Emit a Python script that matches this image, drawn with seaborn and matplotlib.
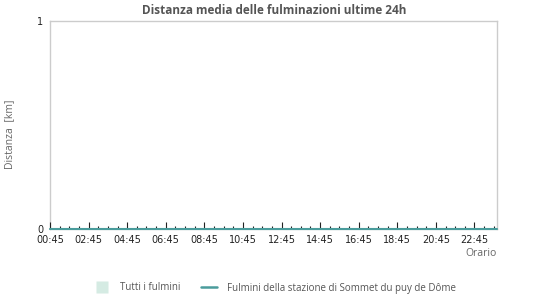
import matplotlib
matplotlib.use("Agg")
import matplotlib.pyplot as plt
import matplotlib.ticker as mticker
from matplotlib.lines import Line2D
import seaborn as sns
import pandas as pd

# ---- data ----
minutes = [45, 165, 285, 405, 525, 645, 765, 885, 1005, 1125, 1245, 1365, 1435]
tutti_km = [0, 0, 0, 0, 0, 0, 0, 0, 0, 0, 0, 0, 0]
stazione_km = [0, 0, 0, 0, 0, 0, 0, 0, 0, 0, 0, 0, 0]
tick_labels = ["00:45", "02:45", "04:45", "06:45", "08:45", "10:45",
               "12:45", "14:45", "16:45", "18:45", "20:45", "22:45"]
yticks = [0, 1]

title = "Distanza media delle fulminazioni ultime 24h"
ylabel = "Distanza  [km]"
xlabel = "Orario"
legend_labels = ["Tutti i fulmini", "Fulmini della stazione di Sommet du puy de Dôme"]

fill_color = "#d5ebe3"
line_color = "#4a9c9c"
grey = "#666666"

sns.set_theme(style="white")
plt.rcParams["font.family"] = ["DejaVu Sans"]

df = pd.DataFrame({"t": minutes, "tutti": tutti_km, "stazione": stazione_km})

fig = plt.figure(figsize=(5.5, 3.0), dpi=100)
ax = fig.add_axes([50/550, 1-229/300, (497-50)/550, (229-21)/300])

ax.fill_between(df["t"], 0, df["tutti"], color=fill_color, linewidth=0, zorder=1)
sns.lineplot(data=df, x="t", y="stazione", ax=ax, color=line_color, linewidth=1.5,
             legend=False, clip_on=False, zorder=2)

ax.set_xlim(45, 1435)
ax.set_ylim(0, 1)

major = [45 + 120 * i for i in range(len(tick_labels))]
ax.set_xticks(major)
ax.set_xticklabels(tick_labels)
ax.xaxis.set_minor_locator(mticker.MultipleLocator(30, offset=15))
ax.set_yticks(yticks)
ax.set_yticklabels([str(v) for v in yticks])

ax.tick_params(axis="x", which="major", direction="in", length=5, width=0.8,
               color="#222222", labelsize=7, labelcolor="#222222", pad=4.5, bottom=True)
ax.tick_params(axis="x", which="minor", direction="in", length=2.5, width=0.8,
               color="#222222", bottom=True)
ax.tick_params(axis="y", which="major", length=0, labelsize=7, labelcolor="#222222", pad=5)

for s in ax.spines.values():
    s.set_color("#cccccc")
    s.set_linewidth(1.0)
    s.set_zorder(0.5)

ax.set_xlabel("")
ax.set_ylabel("")

fig.text(274/550, 1-10/300, title, ha="center", va="center", fontsize=8.5,
         fontweight="bold", color="#555555", family=["Open Sans", "DejaVu Sans"])
fig.text(10/550, 1-134/300, ylabel, ha="center", va="center", rotation=90,
         fontsize=7.5, color=grey, family=["Open Sans", "DejaVu Sans"])
fig.text(497/550, 1-253/300, xlabel, ha="right", va="center",
         fontsize=7.5, color=grey, family=["Open Sans", "DejaVu Sans"])

handles = [Line2D([0], [0], marker="s", markersize=8, linestyle="none",
                  markerfacecolor=fill_color, markeredgecolor="none"),
           Line2D([0], [0], color=line_color, linewidth=1.8)]
leg = fig.legend(handles, legend_labels, loc="center", bbox_to_anchor=(275/550, 1-288/300),
                 ncol=2, frameon=False, handlelength=1.6,
                 columnspacing=2.2, handletextpad=1.0,
                 prop={"family": ["Open Sans", "DejaVu Sans"], "size": 7})
for t in leg.get_texts():
    t.set_color("#555555")

fig.savefig("out.png", dpi=100)
